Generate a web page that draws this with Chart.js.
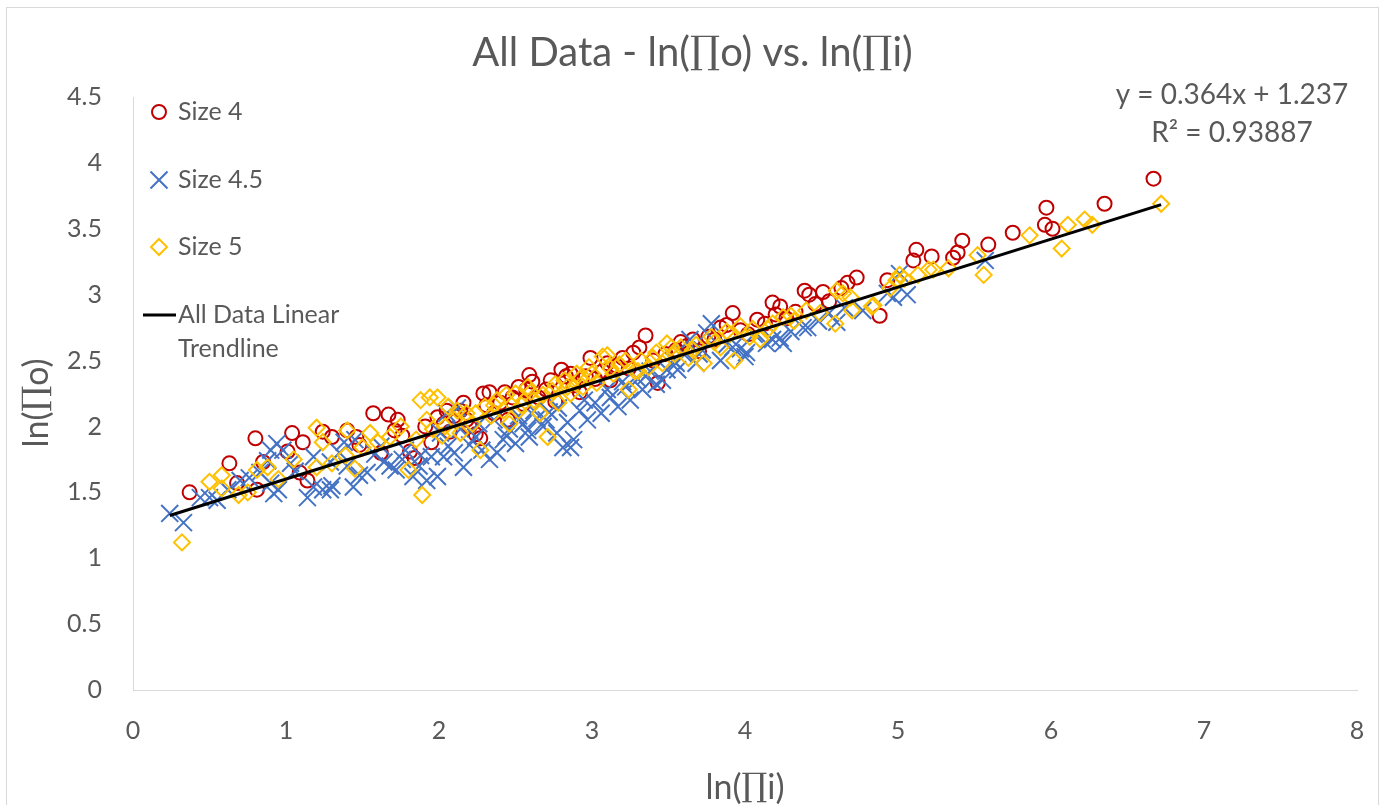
<!DOCTYPE html>
<html><head><meta charset="utf-8">
<script src="https://cdn.jsdelivr.net/npm/chart.js@4.4.1/dist/chart.umd.min.js"></script>
<style>html,body{margin:0;padding:0;background:#fff;overflow:hidden}#wrap{width:1385px;height:805px}</style>
</head><body><div id="wrap"><canvas id="c" width="1385" height="805"></canvas></div>
<script>
const chartTitle = 'All Data - ln(\u220Fo) vs. ln(\u220Fi)';
const xAxisTitle = 'ln(\u220Fi)';
const yAxisTitle = 'ln(\u220Fo)';
const seriesNames = ['Size 4', 'Size 4.5', 'Size 5'];
const trendNameLines = ['All Data Linear', 'Trendline'];
const trendSlope = 0.364;
const trendIntercept = 1.237;
const trendEquation = 'y = 0.364x + 1.237';
const trendR2Text = 'R\u00B2 = 0.93887';
const xTickValues = [0, 1, 2, 3, 4, 5, 6, 7, 8];
const xTickLabels = ['0', '1', '2', '3', '4', '5', '6', '7', '8'];
const yTickValues = [0, 0.5, 1, 1.5, 2, 2.5, 3, 3.5, 4, 4.5];
const yTickLabels = ['0', '0.5', '1', '1.5', '2', '2.5', '3', '3.5', '4', '4.5'];

const size4X = [0.37,0.63,0.68,0.80,0.81,0.85,1.01,1.04,1.09,1.11,1.14,1.24,1.30,1.40,1.46,1.48,1.57,1.62,1.67,1.71,1.73,1.76,1.81,1.84,1.91,1.95,1.99,2.03,2.07,2.10,2.14,2.16,2.20,2.24,2.27,2.29,2.33,2.36,2.40,2.45,2.48,2.52,2.55,2.59,2.61,2.65,2.70,2.76,2.80,2.83,2.88,2.92,2.99,3.02,3.07,3.12,3.16,3.20,3.24,3.27,3.31,3.35,3.40,3.43,3.48,3.55,3.62,3.70,3.76,3.80,3.84,3.92,3.97,4.02,4.08,4.13,4.18,4.20,4.23,4.27,4.33,4.39,4.42,4.46,4.51,4.55,4.63,4.67,4.73,4.88,4.93,5.10,5.12,5.22,5.36,5.39,5.42,5.59,5.75,5.96,5.97,6.01,6.35,6.67,2.05,2.18,2.31,2.43,2.57,2.73,2.86,2.96,3.10,3.58,3.66,3.88];
const size4Y = [1.50,1.72,1.57,1.91,1.52,1.73,1.81,1.95,1.65,1.88,1.59,1.96,1.92,1.97,1.92,1.86,2.10,1.80,2.09,1.97,2.05,1.93,1.81,1.76,2.00,1.88,2.07,2.02,1.96,2.08,2.12,2.18,2.00,1.94,1.91,2.25,2.26,2.10,2.18,2.05,2.22,2.30,2.17,2.39,2.34,2.22,2.28,2.19,2.43,2.38,2.31,2.26,2.52,2.36,2.42,2.35,2.46,2.52,2.44,2.56,2.60,2.69,2.50,2.33,2.55,2.58,2.61,2.57,2.68,2.66,2.75,2.86,2.73,2.70,2.81,2.78,2.94,2.85,2.91,2.82,2.87,3.03,3.00,2.93,3.02,2.95,3.05,3.09,3.13,2.84,3.11,3.26,3.34,3.29,3.28,3.32,3.41,3.38,3.47,3.53,3.66,3.50,3.69,3.88,2.12,2.05,2.16,2.26,2.28,2.35,2.40,2.38,2.48,2.64,2.66,2.77];

const size45X = [0.24,0.33,0.44,0.50,0.55,0.62,0.70,0.76,0.83,0.88,0.90,0.90,0.92,0.94,0.95,0.98,1.03,1.06,1.14,1.18,1.18,1.24,1.29,1.30,1.29,1.35,1.38,1.40,1.44,1.45,1.48,1.53,1.58,1.64,1.68,1.72,1.76,1.83,1.87,1.92,1.95,1.99,2.03,2.05,2.06,2.10,2.12,2.16,2.20,2.24,2.28,2.33,2.38,2.42,2.46,2.50,2.55,2.58,2.59,2.64,2.68,2.72,2.77,2.81,2.84,2.86,2.88,2.92,2.97,3.02,3.06,3.12,3.17,3.22,3.25,3.30,3.33,3.38,3.42,3.46,3.49,3.53,3.56,3.60,3.64,3.68,3.72,3.75,3.78,3.84,3.88,3.92,3.97,4.00,4.01,4.06,4.14,4.18,4.23,4.25,4.30,4.38,4.41,4.48,4.55,4.60,4.65,4.77,4.93,4.97,5.01,5.06,5.57,2.01,2.14,2.26,2.36,2.44,2.52,2.62,2.70,2.78,2.95,3.10,3.20,3.35,3.55,3.70,1.62,1.78,1.88];
const size45Y = [1.34,1.27,1.46,1.46,1.44,1.52,1.59,1.61,1.65,1.74,1.82,1.57,1.49,1.87,1.52,1.82,1.72,1.66,1.46,1.54,1.77,1.52,1.52,1.55,1.73,1.80,1.88,1.70,1.54,1.90,1.63,1.65,1.79,1.73,1.70,1.67,1.75,1.62,1.70,1.59,1.77,1.62,1.77,2.10,1.85,1.80,2.14,1.69,1.86,1.92,1.82,1.75,1.80,1.90,1.98,1.87,2.02,1.97,1.92,2.06,2.00,2.11,1.95,1.84,2.03,1.84,1.90,2.12,2.05,2.18,2.10,2.22,2.15,2.30,2.20,2.36,2.28,2.42,2.32,2.35,2.43,2.50,2.43,2.55,2.66,2.48,2.58,2.71,2.78,2.50,2.62,2.60,2.59,2.53,2.56,2.70,2.63,2.66,2.67,2.63,2.72,2.75,2.75,2.80,2.86,2.79,2.90,2.88,3.01,2.98,3.16,3.00,3.26,1.95,1.98,2.02,2.05,1.93,2.08,2.12,2.05,2.14,2.20,2.28,2.34,2.38,2.48,2.55,1.85,1.82,1.78];

const size5X = [0.32,0.50,0.58,0.58,0.69,0.75,0.81,0.88,0.95,1.05,1.20,1.20,1.24,1.30,1.39,1.40,1.45,1.50,1.55,1.60,1.68,1.75,1.80,1.85,1.88,1.89,1.92,1.94,1.96,1.99,2.02,2.06,2.10,2.14,2.18,2.22,2.27,2.30,2.34,2.38,2.42,2.46,2.50,2.54,2.58,2.62,2.66,2.71,2.74,2.78,2.82,2.86,2.90,2.94,2.98,3.03,3.07,3.10,3.14,3.18,3.24,3.28,3.32,3.37,3.42,3.46,3.49,3.54,3.58,3.63,3.68,3.73,3.78,3.84,3.88,3.93,3.97,4.03,4.10,4.18,4.25,4.32,4.40,4.49,4.59,4.60,4.64,4.69,4.70,4.83,4.84,4.95,4.99,5.01,5.04,5.13,5.20,5.23,5.33,5.52,5.56,5.86,6.07,6.11,6.22,6.27,6.72,2.04,2.12,2.24,2.36,2.44,2.52,2.60,2.68,2.76,2.84,2.92,3.00,3.12,3.22,3.30,3.40,3.52,3.66,3.80,3.90,4.05,4.15,4.30];
const size5Y = [1.12,1.58,1.63,1.53,1.48,1.50,1.67,1.69,1.60,1.75,1.99,1.69,1.88,1.72,1.78,1.97,1.68,1.84,1.95,1.88,1.92,2.00,1.67,1.90,2.20,1.48,2.05,2.22,1.98,2.22,1.93,2.15,2.05,1.95,2.10,2.02,1.82,2.15,2.08,2.20,2.12,2.02,2.25,2.16,2.30,2.20,2.10,1.92,2.27,2.18,2.35,2.25,2.40,2.30,2.45,2.33,2.53,2.54,2.40,2.47,2.28,2.42,2.50,2.45,2.56,2.48,2.63,2.55,2.60,2.52,2.62,2.48,2.68,2.60,2.72,2.50,2.76,2.68,2.66,2.78,2.83,2.80,2.88,2.86,2.78,3.03,3.01,2.98,2.88,2.91,2.92,3.05,3.11,3.15,3.12,3.15,3.19,3.19,3.20,3.30,3.15,3.45,3.35,3.53,3.57,3.53,3.69,2.00,2.12,2.10,2.16,2.24,2.12,2.26,2.24,2.32,2.30,2.36,2.40,2.44,2.50,2.42,2.52,2.60,2.58,2.64,2.70,2.74,2.74,2.84];

const colRed = '#C00000', colBlue = '#4472C4', colGold = '#FFC000', textCol = '#595959';
const fontFam = 'Lato, "DejaVu Sans", sans-serif';
const piFam = '"DejaVu Serif", serif';

function pts(xs, ys) { return xs.map((x, i) => ({ x: x, y: ys[i] })); }
const allX = size4X.concat(size45X, size5X);
const xLo = Math.min.apply(null, allX), xHi = Math.max.apply(null, allX);
const trendData = [{ x: xLo, y: trendSlope * xLo + trendIntercept }, { x: xHi, y: trendSlope * xHi + trendIntercept }];

// draws text where the product sign uses a serif face, other characters use Lato
function drawMixed(ctx, text, x, y, size) {
  const runs = text.split(/(\u220F)/).filter(s => s.length);
  const fontFor = r => (r === '\u220F' ? (size * 0.95) + 'px ' + piFam : size + 'px ' + fontFam);
  let total = 0;
  const widths = runs.map(r => { ctx.font = fontFor(r); const w = ctx.measureText(r).width; total += w; return w; });
  let cx = x - total / 2;
  ctx.textAlign = 'left';
  runs.forEach((r, i) => { ctx.font = fontFor(r); ctx.fillText(r, cx, y); cx += widths[i]; });
}

const overlay = {
  id: 'overlay',
  afterDraw(chart) {
    const ctx = chart.ctx;
    const ca = chart.chartArea;
    const H = Chart.helpers;
    ctx.save();
    ctx.strokeStyle = '#d9d9d9'; ctx.lineWidth = 1;
    ctx.strokeRect(6.5, 7.5, 1372, 900);
    ctx.fillStyle = textCol;
    ctx.textBaseline = 'middle';
    drawMixed(ctx, chartTitle, chart.width / 2, 53, 40);
    drawMixed(ctx, xAxisTitle, (ca.left + ca.right) / 2, 788, 34);
    ctx.save();
    ctx.translate(37, 403); ctx.rotate(-Math.PI / 2);
    drawMixed(ctx, yAxisTitle, 0, 0, 34);
    ctx.restore();
    // equation
    ctx.textAlign = 'center';
    ctx.font = '28px ' + fontFam;
    ctx.fillText(trendEquation, 1232, 95);
    ctx.fillText(trendR2Text, 1232, 133);
    // legend
    const styles = [
      { pointStyle: 'circle', radius: 7, borderWidth: 2, color: colRed },
      { pointStyle: 'crossRot', radius: 12, borderWidth: 2, color: colBlue },
      { pointStyle: 'rectRot', radius: 8, borderWidth: 2, color: colGold }
    ];
    const rows = [112, 180, 247];
    ctx.textAlign = 'left';
    ctx.font = '25px ' + fontFam;
    styles.forEach((s, i) => {
      ctx.save();
      ctx.strokeStyle = s.color; ctx.fillStyle = 'rgba(0,0,0,0)'; ctx.lineWidth = s.borderWidth;
      H.drawPoint(ctx, { pointStyle: s.pointStyle, radius: s.radius, rotation: 0, borderWidth: s.borderWidth }, 159, rows[i]);
      ctx.restore();
      ctx.fillStyle = textCol;
      ctx.fillText(seriesNames[i], 178, rows[i]);
    });
    ctx.strokeStyle = '#000'; ctx.lineWidth = 3;
    ctx.beginPath(); ctx.moveTo(143, 315); ctx.lineTo(176, 315); ctx.stroke();
    ctx.fillStyle = textCol;
    ctx.fillText(trendNameLines[0], 178, 315);
    ctx.fillText(trendNameLines[1], 178, 349);
    ctx.restore();
  }
};

const tickFont = { family: fontFam, size: 25 };
new Chart(document.getElementById('c'), {
  type: 'scatter',
  data: {
    datasets: [
      { label: 'All Data Linear Trendline', data: trendData, showLine: true, borderColor: '#000', borderWidth: 3, pointRadius: 0, order: 0 },
      { label: seriesNames[2], data: pts(size5X, size5Y), pointStyle: 'rectRot', pointRadius: 8, pointBorderWidth: 2, pointBorderColor: colGold, pointBackgroundColor: 'rgba(0,0,0,0)', borderColor: colGold, backgroundColor: 'rgba(0,0,0,0)', order: 1 },
      { label: seriesNames[1], data: pts(size45X, size45Y), pointStyle: 'crossRot', pointRadius: 12, pointBorderWidth: 2, pointBorderColor: colBlue, pointBackgroundColor: 'rgba(0,0,0,0)', borderColor: colBlue, backgroundColor: 'rgba(0,0,0,0)', order: 2 },
      { label: seriesNames[0], data: pts(size4X, size4Y), pointStyle: 'circle', pointRadius: 7, pointBorderWidth: 2, pointBorderColor: colRed, pointBackgroundColor: 'rgba(0,0,0,0)', borderColor: colRed, backgroundColor: 'rgba(0,0,0,0)', order: 3 }
    ]
  },
  options: {
    responsive: false, animation: false, events: [],
    layout: { padding: { left: 0, right: 28, top: 97, bottom: 0 } },
    plugins: { legend: { display: false }, title: { display: false }, tooltip: { enabled: false } },
    scales: {
      x: {
        type: 'linear', min: 0, max: 8,
        afterFit: s => { s.height = 115; s.paddingLeft = 0; s.paddingRight = 0; },
        afterBuildTicks: s => { s.ticks = xTickValues.map(v => ({ value: v })); },
        ticks: { padding: 26, color: textCol, font: tickFont, maxRotation: 0, callback: (v) => xTickLabels[xTickValues.indexOf(v)] },
        grid: { display: false, drawTicks: false },
        border: { display: true, color: '#d9d9d9', width: 1 }
      },
      y: {
        type: 'linear', min: 0, max: 4.5,
        afterFit: s => { s.width = 133; },
        afterBuildTicks: s => { s.ticks = yTickValues.map(v => ({ value: v })); },
        ticks: { padding: 31, color: textCol, font: tickFont, callback: (v) => yTickLabels[yTickValues.indexOf(v)] },
        grid: { display: false, drawTicks: false },
        border: { display: true, color: '#d9d9d9', width: 1 }
      }
    }
  },
  plugins: [overlay]
});
</script></body></html>
